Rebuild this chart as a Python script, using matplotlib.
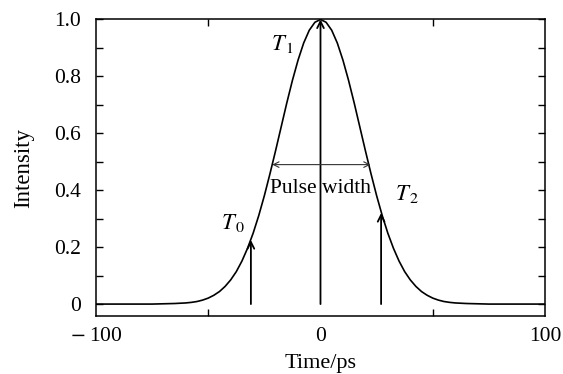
import matplotlib.pyplot as plt

plt.rcParams['font.family'] = ['Liberation Serif', 'DejaVu Serif']

# pulse samples (time in ps, normalised intensity)
tempo = [-100, -90, -80, -75, -70, -65, -60, -57.5, -55, -52.5, -50, -47.5, -45, -42.5,
         -40, -37.5, -35, -32.5, -30, -27.5, -25, -22.5, -20, -17.5, -15, -12.5, -10,
         -7.5, -5, -2.5, 0, 2.5, 5, 7.5, 10, 12.5, 15, 17.5, 20, 22.5, 25, 27.5, 30,
         32.5, 35, 37.5, 40, 42.5, 45, 47.5, 50, 52.5, 55, 57.5, 60, 65, 70, 75, 80, 90, 100]
intensidade = [0.0, 0.0, 0.0, 0.0, 0.001, 0.002, 0.004, 0.006, 0.009, 0.014, 0.021, 0.031,
               0.044, 0.062, 0.085, 0.114, 0.151, 0.196, 0.249, 0.311, 0.381, 0.458, 0.539,
               0.623, 0.707, 0.786, 0.857, 0.917, 0.962, 0.990, 1.0, 0.990, 0.962, 0.917,
               0.857, 0.786, 0.707, 0.623, 0.539, 0.458, 0.381, 0.311, 0.249, 0.196, 0.151,
               0.114, 0.085, 0.062, 0.044, 0.031, 0.021, 0.014, 0.009, 0.006, 0.004, 0.002,
               0.001, 0.0, 0.0, 0.0, 0.0]

# marked instants T0, T1, T2 and their heights
setas_x = [-31, 0, 27]
setas_y = [0.225, 1.0, 0.32]
rotulos = ['0', '1', '2']
rotulos_pos = [(-39, 0.285), (-17, 0.915), (38.5, 0.385)]

# half-maximum span
meia_altura = 0.49
largura = (-21.5, 22.3)

fig = plt.figure(figsize=(5.63, 3.74), dpi=100)
ax = fig.add_axes([0.1705, 0.155, 0.7975, 0.793])

ax.plot(tempo, intensidade, color='black', lw=1.2)

for x, y in zip(setas_x, setas_y):
    ax.annotate('', xy=(x, y), xytext=(x, 0),
                arrowprops=dict(arrowstyle='->', color='black', lw=1.3,
                                shrinkA=0, shrinkB=0, mutation_scale=12))

for r, (tx, ty) in zip(rotulos, rotulos_pos):
    ax.text(tx, ty, '$T_{\\,' + r + '}$', fontsize=16.5, ha='center', va='center',
            math_fontfamily='stix')

ax.annotate('', xy=(largura[0], meia_altura), xytext=(largura[1], meia_altura),
            arrowprops=dict(arrowstyle='<->', color='#333333', lw=0.8,
                            shrinkA=0, shrinkB=0, mutation_scale=10))
ax.text(0, 0.405, 'Pulse width', fontsize=15.5, ha='center', va='center')

ax.set_xlim(-100, 100)
ax.set_ylim(-0.042, 1.0)
ax.set_xticks([-100, 0, 100])
ax.set_xticklabels(['$-$\u2009100', '0', '100'], math_fontfamily='stix')
ax.set_xticks([-50, 50], minor=True)
ax.set_yticks([0, 0.2, 0.4, 0.6, 0.8, 1.0])
ax.set_yticklabels(['0', '0.2', '0.4', '0.6', '0.8', '1.0'])
ax.set_yticks([0.1, 0.3, 0.5, 0.7, 0.9], minor=True)
ax.tick_params(which='both', direction='in', top=True, right=True,
               labelsize=15.5, width=1)
ax.tick_params(axis='y', pad=11)
ax.tick_params(axis='x', pad=8)
ax.tick_params(which='major', length=5)
ax.tick_params(which='minor', length=5)
ax.tick_params(axis='x', which='major', length=0)
for s in ax.spines.values():
    s.set_linewidth(1.1)

ax.set_xlabel('Time/ps', fontsize=16, labelpad=6)
ax.set_ylabel('Intensity', fontsize=16.5, labelpad=14)

fig.savefig('out.png', dpi=100)
